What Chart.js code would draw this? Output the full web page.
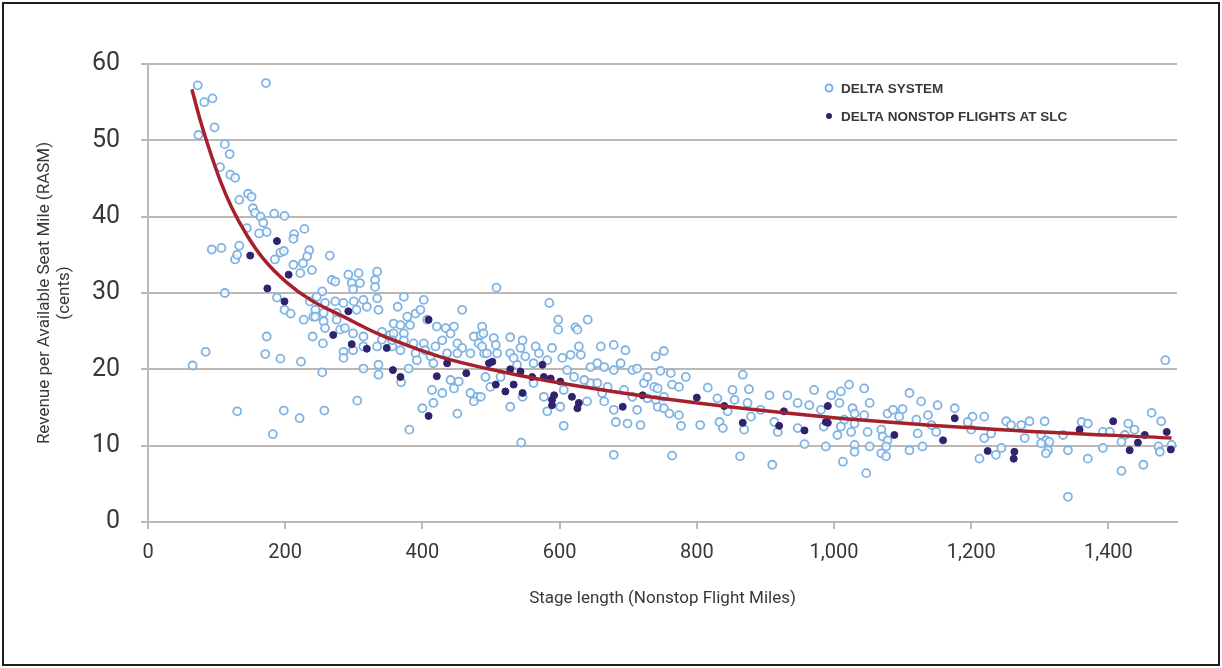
<!DOCTYPE html>
<html>
<head>
<meta charset="utf-8">
<script src="https://cdn.jsdelivr.net/npm/chart.js@4/dist/chart.umd.min.js"></script>
<style>
  html, body { margin: 0; padding: 0; background: #fff; }
  canvas { display: block; }
</style>
</head>
<body>
<canvas id="rasm-chart" width="1222" height="668"></canvas>
<script>
const seriesNames = ['DELTA SYSTEM', 'DELTA NONSTOP FLIGHTS AT SLC'];
const xAxisTitle = 'Stage length (Nonstop Flight Miles)';
const yAxisTitle = ['Revenue per Available Seat Mile (RASM)', '(cents)'];

// [stage length, RASM]
const systemPoints = [
  [72.5,57.2],[172,57.5],[82,55],[94,55.5],[97,51.7],[73.5,50.7],[112,49.5],[119,48.2],[105,46.5],[120,45.5],
  [127,45.1],[133,42.2],[146,43],[151,42.6],[153,41.1],[156,40.5],[164,40],[168,39.2],[184,40.4],[199,40.1],
  [144,38.5],[162,37.8],[173,38],[213,37.7],[212,37.1],[228,38.4],[93,35.7],[107,35.9],[133,36.2],[127,34.4],
  [130,35],[193,35.3],[198,35.5],[185,34.4],[235,35.6],[232,34.8],[212,33.7],[226,33.9],[239,33],[222,32.6],
  [112,30],[188,29.4],[199,27.8],[208,27.3],[227,26.5],[241,26.9],[240,24.3],[173,24.3],[84,22.3],[65,20.5],
  [171,22],[193,21.4],[223,21],[130,14.5],[198,14.6],[221,13.6],[182,11.5],
  [265,34.9],[268,31.7],[273,31.5],[292,32.4],[307,32.6],[297,31.3],[309,31.3],[299,30.5],[334,32.8],[331,31.7],
  [331,30.8],[254,30.2],[246,29.5],[236,28.9],[258,28.7],[273,28.9],[285,28.7],[300,28.9],[314,29.1],[334,29.3],
  [319,28.2],[336,27.8],[304,27.8],[244,27.8],[256,27.4],[275,27.4],[275,26.5],[256,26.3],[244,26.9],[258,25.4],
  [255,23.4],[280,25.2],[287,25.4],[299,24.7],[314,24.3],[299,22.5],[285,22.3],[285,21.5],[341,24.9],[353,24.5],
  [341,23.9],[356,23],[334,23],[314,23],[369,18.3],[314,20.1],[336,20.6],[336,19.3],[380,20.1],[254,19.6],
  [305,15.9],[257,14.6],[381,12.1],[373,29.5],[402,29.1],[364,28.2],[390,27.3],[397,27.8],[378,26.9],[407,26.5],
  [358,26],[368,25.8],[382,25.8],[358,24.7],[373,24.7],[356,23.8],[373,23.8],[387,23.4],[368,22.5],[390,22.1],
  [402,23.4],[404,22.5],[419,23],[429,23.8],[434,25.4],[441,24.7],[446,25.6],[458,27.8],[421,25.6],[451,23.4],
  [458,22.8],[475,24.3],[487,25.6],[485,24.5],[482,23.4],[470,22.1],[490,22.1],[451,22.1],[436,22.1],[412,21.7],
  [416,20.8],[392,21.2],[441,18.6],[453,18.4],[446,17.5],[429,16.9],[470,16.9],[480,16.4],[475,15.8],[414,17.3],
  [416,15.6],[400,14.9],[451,14.2],
  [508,30.7],[585,28.7],[598,26.5],[598,25.2],[623,25.5],[626,25.2],[641,26.5],[489,24.7],[504,24.1],[507,23.2],
  [487,23],[528,24.2],[546,23.8],[494,22.1],[509,22.1],[528,22.1],[543,22.8],[550,21.7],[565,23],[570,22.1],
  [589,22.8],[604,21.5],[616,21.9],[628,23],[631,21.9],[660,23],[679,23.2],[696,22.5],[740,21.7],[582,21.2],
  [562,20.8],[538,20.6],[533,21.5],[499,17.7],[485,16.4],[528,15.1],[546,16.4],[577,16.4],[601,15.1],[582,14.5],
  [640,15.8],[645,18.2],[665,15.8],[670,17.7],[679,14.7],[682,13.1],[699,12.9],[713,14.7],[723,18.2],[728,16.2],
  [743,15.1],[718,12.7],[606,12.6],[544,10.4],[679,8.8],
  [645,20.3],[655,20.8],[665,20.3],[679,19.9],[689,20.8],[706,19.9],[713,20.1],[728,19],[738,17.7],[611,19.9],
  [621,19],[636,18.6],[655,18.2],[694,17.3],[706,16.4],[662,16.9],[606,17.3],[562,18.2],[514,19],[492,19],
  [752,22.4],[747,19.8],[762,19.5],[784,19],[764,18],[774,17.7],[743,17.5],[752,16.4],[740,16],[752,14.9],
  [760,14.2],[774,14],[777,12.6],[805,12.7],[764,8.7],[816,17.6],[830,16.2],[852,17.3],[855,16],[876,17.4],
  [874,15.6],[867,19.3],[906,16.6],[932,16.6],[971,17.3],[947,15.6],[964,15.3],[981,14.7],[845,14.5],[833,13.1],
  [838,12.3],[869,12.1],[879,13.8],[918,11.8],[893,14.7],[913,13.1],[947,12.3],[957,10.2],[988,9.9],[985,12.5],
  [863,8.6],[910,7.5],
  [1022,18],[1010,17.1],[996,16.6],[1044,17.5],[1110,16.9],[1008,15.6],[1052,15.6],[1127,15.8],[1151,15.3],[1176,14.9],
  [1202,13.8],[1219,13.8],[1027,14.9],[1030,14.2],[1044,14],[1015,13.4],[1030,12.9],[1010,12.5],[1005,11.4],[1025,11.8],
  [1049,11.8],[1069,12.1],[1078,14.2],[1086,14.7],[1100,14.8],[1095,13.8],[1120,13.4],[1137,14],[1149,11.8],[1142,12.7],
  [1122,11.6],[1071,11.2],[1078,10.7],[1076,9.9],[1069,9],[1076,8.6],[1030,10.1],[1030,9.2],[1052,9.9],[1110,9.4],
  [1129,9.9],[1013,7.9],[1047,6.4],[1195,13.1],[1200,12.1],[1219,11],[1212,8.3],
  [1463,14.3],[1477,13.2],[1251,13.2],[1258,12.7],[1273,12.7],[1285,13.2],[1307,13.2],[1361,13.1],[1370,12.9],[1429,12.9],
  [1438,12.1],[1424,11.4],[1229,11.6],[1278,11],[1302,11.4],[1309,10.7],[1314,10.5],[1302,10.3],[1312,9.4],[1309,9],
  [1334,11.4],[1341,9.4],[1370,8.3],[1392,11.8],[1402,11.8],[1392,9.7],[1419,10.5],[1419,6.7],[1451,7.5],[1473,9.9],
  [1475,9.2],[1492,10.1],[1236,8.8],[1244,9.7],[1341,3.3],[1483,21.2]
];

const slcPoints = [
  [188,36.8],[149,34.9],[205,32.4],[174,30.6],[199,28.9],[292,27.6],[270,24.5],[297,23.3],[319,22.7],[348,22.8],
  [357,19.9],[368,19],[409,26.5],[421,19.1],[464,19.5],[436,20.8],[409,13.9],[497,20.8],[502,21],[528,20],
  [543,19.7],[575,20.6],[577,19],[587,18.8],[560,19],[601,18.4],[507,18],[521,17.1],[533,18],[546,16.9],
  [592,16.6],[589,16],[589,15.3],[618,16.4],[628,15.6],[626,14.9],[692,15.1],[721,16.6],[800,16.3],[840,15.2],
  [867,13],[920,12.6],[927,14.5],[957,12],[991,13],[991,15.2],[988,13.1],[1088,11.4],[1159,10.7],[1176,13.6],
  [1224,9.3],[1407,13.2],[1358,12.1],[1453,11.4],[1443,10.4],[1431,9.4],[1485,11.8],[1491,9.5],[1263,9.2],[1262,8.3]
];

// fitted curve
const trendPoints = [
  [64,56.7],[75,53],[88,49.2],[105,44.8],[122,41.2],[144,37.6],[168,34.5],[202,31.4],[237,29.1],[285,26.9],
  [334,24.7],[382,23],[431,21.5],[494,20.1],[582,18.5],[747,16.2],[996,13.7],[1244,12.1],[1492,11]
];

const xRange = [0, 1500];
const yRange = [0, 60];

const systemColor = '#7fb3e3';
const slcColor = '#2f2370';
const trendColor = '#a6202c';
const gridColor = '#bdb8b3';
const textColor = '#383838';

function toXY(pairs) {
  return pairs.map(([x, y]) => ({ x, y }));
}

// white page with the thin black frame
const framePlugin = {
  id: 'frame',
  beforeDraw(chart) {
    const { ctx, width, height } = chart;
    ctx.save();
    ctx.fillStyle = '#fff';
    ctx.fillRect(0, 0, width, height);
    ctx.strokeStyle = '#1e1e1e';
    ctx.lineWidth = 2;
    ctx.strokeRect(3, 3, width - 6, height - 6);
    ctx.restore();
  }
};

// legend sits inside the plot, top right
const insideLegend = {
  id: 'insideLegend',
  afterDraw(chart) {
    const { ctx, chartArea } = chart;
    const x = chartArea.right - 348;
    const y0 = chartArea.top + 24;
    const gap = 28;
    ctx.save();
    ctx.font = 'bold 13.5px "Liberation Sans", Arial, sans-serif';
    ctx.fillStyle = textColor;
    ctx.textBaseline = 'middle';
    seriesNames.forEach((name, i) => {
      const y = y0 + i * gap;
      ctx.beginPath();
      ctx.arc(x, y, i === 0 ? 3.5 : 3, 0, Math.PI * 2);
      if (i === 0) {
        ctx.strokeStyle = systemColor;
        ctx.lineWidth = 2;
        ctx.stroke();
      } else {
        ctx.fillStyle = slcColor;
        ctx.fill();
        ctx.fillStyle = textColor;
      }
      ctx.fillText(name, x + 12, y + 1);
    });
    ctx.restore();
  }
};

function main() {
  const canvas = document.getElementById('rasm-chart');

  new Chart(canvas, {
    type: 'scatter',
    data: {
      datasets: [
        {
          label: seriesNames[0],
          data: toXY(systemPoints),
          pointRadius: 4,
          pointBorderWidth: 1.8,
          borderColor: systemColor,
          backgroundColor: 'rgba(255,255,255,0.7)',
          order: 3
        },
        {
          label: seriesNames[1],
          data: toXY(slcPoints),
          pointRadius: 3.5,
          pointBorderWidth: 1,
          borderColor: slcColor,
          backgroundColor: slcColor,
          order: 2
        },
        {
          label: 'trend',
          data: toXY(trendPoints),
          showLine: true,
          pointRadius: 0,
          borderColor: trendColor,
          borderWidth: 3.5,
          cubicInterpolationMode: 'monotone',
          fill: false,
          order: 1
        }
      ]
    },
    options: {
      responsive: false,
      animation: false,
      layout: { padding: { left: 0, top: 64, right: 45, bottom: 59 } },
      plugins: {
        legend: { display: false },
        tooltip: { enabled: false }
      },
      scales: {
        x: {
          type: 'linear',
          min: xRange[0],
          max: xRange[1],
          afterFit(scale) { scale.height = 87; },
          ticks: {
            stepSize: 200,
            includeBounds: false,
            padding: 12,
            color: textColor,
            font: { family: 'Roboto, sans-serif', size: 20 },
            maxRotation: 0,
            callback: (v) => v.toLocaleString('en-US')
          },
          grid: {
            drawOnChartArea: false,
            drawTicks: true,
            tickLength: 7,
            color: gridColor,
            lineWidth: 2
          },
          border: { color: gridColor, width: 2 },
          title: {
            display: true,
            text: xAxisTitle,
            color: textColor,
            padding: 0,
            font: { family: 'Roboto, sans-serif', size: 17 }
          }
        },
        y: {
          min: yRange[0],
          max: yRange[1],
          afterFit(scale) { scale.width = 148; },
          ticks: {
            stepSize: 10,
            padding: 21,
            color: textColor,
            font: { family: 'Roboto, sans-serif', size: 25 }
          },
          grid: {
            drawTicks: true,
            tickLength: 7,
            color: gridColor,
            lineWidth: 2
          },
          border: { color: gridColor, width: 2 },
          title: {
            display: true,
            text: yAxisTitle,
            color: textColor,
            padding: { top: 35, bottom: 0 },
            font: { family: 'Roboto, sans-serif', size: 17, lineHeight: 1.15 }
          }
        }
      }
    },
    plugins: [framePlugin, insideLegend]
  });
}

main();
</script>
</body>
</html>
